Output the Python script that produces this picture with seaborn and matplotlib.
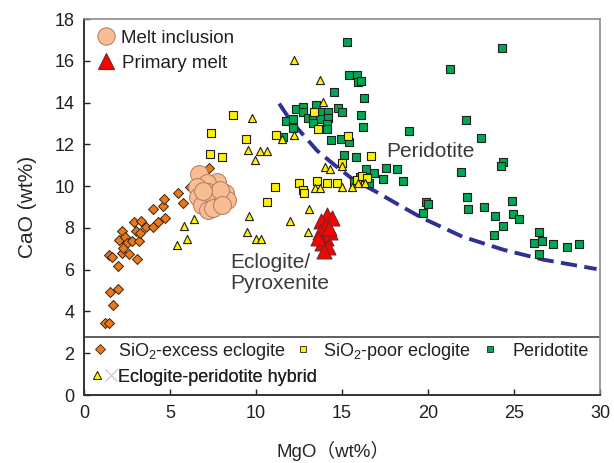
import matplotlib
matplotlib.use("Agg")
import matplotlib.pyplot as plt
import seaborn as sns
import pandas as pd
from matplotlib.lines import Line2D
from matplotlib.legend_handler import HandlerTuple

# ---- MgO / CaO (wt%) compilations ----
excess_mgo = [1.24, 1.43, 1.67, 1.51, 2.00, 2.00, 1.47, 1.61, 2.19, 2.64, 3.06, 2.19, 2.06,
              2.38, 2.48, 2.25, 2.77, 3.22, 3.02, 2.91, 3.31, 3.26, 3.60, 4.03, 4.32, 4.71,
              4.03, 4.61, 4.65, 5.74, 5.49, 7.29, 6.16]
excess_cao = [3.46, 3.46, 4.33, 4.92, 5.08, 6.16, 6.70, 6.63, 6.79, 6.75, 6.52, 7.83, 7.43,
              7.56, 7.27, 7.06, 7.35, 7.35, 7.83, 8.27, 8.35, 7.75, 8.03, 8.02, 8.27, 8.46,
              8.89, 9.05, 9.37, 9.17, 9.65, 10.89, 9.97]

poor_mgo = [7.33, 8.02, 8.68, 7.40, 9.40, 11.16, 13.39, 13.58, 15.33, 14.98, 16.67, 11.10,
            10.62, 12.50, 12.73, 12.79, 13.53, 14.11, 14.69, 15.85, 16.14, 16.47]
poor_cao = [11.52, 11.37, 13.41, 12.54, 12.24, 12.43, 13.54, 12.75, 12.38, 11.11, 11.43, 9.94,
            9.25, 10.16, 9.81, 9.68, 10.25, 10.16, 10.13, 10.29, 10.48, 10.41]

hybrid_mgo = [5.39, 5.81, 6.01, 6.41, 12.23, 13.72, 13.87, 12.21, 11.49, 9.75, 9.55, 10.23,
              10.62, 9.94, 14.01, 14.30, 15.02, 13.43, 13.72, 14.98, 15.56, 15.95, 16.34,
              13.10, 11.98, 13.00, 9.61, 9.49, 10.00, 10.29]
hybrid_cao = [7.19, 8.10, 7.48, 8.43, 16.03, 15.10, 14.01, 12.43, 12.27, 13.27, 11.75, 11.67,
              11.67, 11.27, 10.92, 10.84, 10.95, 9.89, 9.89, 9.97, 9.94, 10.13, 10.13,
              8.89, 8.35, 7.78, 8.57, 7.78, 7.46, 7.46]

peridotite_mgo = [15.31, 15.43, 15.85, 15.95, 16.10, 14.52, 16.28, 12.33, 12.75, 12.75, 13.49,
                  13.82, 14.20, 13.04, 13.33, 14.20, 13.72, 13.33, 14.11, 14.11, 11.74, 12.13,
                  12.17, 11.55, 14.79, 15.02, 16.09, 16.20, 14.34, 14.92, 15.43, 15.13, 15.81,
                  15.70, 16.05, 16.40, 16.86, 16.59, 17.56, 18.22, 17.40, 18.56, 18.88, 21.28,
                  24.28, 22.19, 23.06, 21.90, 24.38, 24.22, 22.25, 22.30, 23.26, 23.87, 24.34,
                  24.87, 24.96, 25.29, 23.85, 19.88, 20.00, 19.69, 26.47, 26.16, 26.61, 27.29,
                  28.06, 28.80, 26.47]
peridotite_cao = [16.90, 15.32, 15.32, 14.97, 15.03, 14.52, 14.22, 13.67, 13.81, 13.54, 13.86,
                  13.54, 13.54, 13.25, 13.25, 13.25, 13.22, 13.02, 12.98, 12.75, 13.14, 13.19,
                  12.78, 12.35, 13.73, 13.57, 13.41, 12.83, 12.19, 12.24, 12.11, 11.48, 11.40,
                  10.21, 10.44, 10.81, 10.63, 10.16, 10.87, 10.81, 10.35, 10.25, 12.63, 15.60,
                  16.59, 13.18, 12.32, 10.68, 11.14, 10.98, 9.49, 8.90, 9.02, 8.59, 8.11,
                  9.29, 8.67, 8.44, 7.67, 9.25, 9.16, 8.73, 7.78, 7.30, 7.38, 7.22,
                  7.08, 7.22, 6.75]

melt_mgo = [6.71, 7.71, 7.13, 6.55, 8.20, 7.23, 6.65, 7.71, 8.30, 6.84, 7.71, 7.23, 7.23,
            7.91, 6.90, 7.50, 8.00]
melt_cao = [10.57, 10.21, 10.13, 9.94, 9.65, 9.41, 9.49, 9.49, 9.33, 9.10, 9.10, 8.86, 9.73,
            9.81, 9.75, 8.95, 9.10]

primary_mgo = [14.13, 14.42, 13.78, 14.01, 14.30, 13.72, 14.07, 13.84, 14.19, 13.95, 14.24, 13.60]
primary_cao = [8.62, 8.48, 8.33, 8.10, 7.81, 7.81, 7.52, 7.29, 7.10, 6.90, 8.00, 7.52]

# peridotite / eclogite boundary
boundary_mgo = [11.35, 12.0, 12.75, 13.55, 14.7, 15.6, 17.0, 18.2, 19.6, 22.0, 24.4, 26.7, 29.8]
boundary_cao = [13.95, 13.15, 12.45, 11.7, 10.92, 10.35, 9.72, 9.15, 8.5, 7.58, 6.95, 6.48, 6.03]

x_ticks = [0, 5, 10, 15, 20, 25, 30]
y_ticks = [0, 2, 4, 6, 8, 10, 12, 14, 16, 18]

# ---- style ----
sns.set_style("ticks")
plt.rcParams["font.family"] = ["Liberation Sans", "Noto Sans CJK SC", "DejaVu Sans"]
plt.rcParams["mathtext.fontset"] = "custom"
plt.rcParams["mathtext.rm"] = "Liberation Sans"
plt.rcParams["mathtext.it"] = "Liberation Sans:italic"
plt.rcParams["text.color"] = "#231f20"

W, H = 614, 463
fig = plt.figure(figsize=(W / 100, H / 100), dpi=100)
ax = fig.add_axes([84 / W, 1 - 395 / H, (600 - 84) / W, (395 - 19) / H])

c_orange, c_yellow, c_green = "#e8791e", "#fff200", "#00a651"
c_peach, c_red, c_line = "#f9bd96", "#ff0000", "#2e3192"

sns.lineplot(x=boundary_mgo, y=boundary_cao, sort=False, estimator=None, ax=ax,
             color=c_line, lw=2.8, dashes=False, zorder=2)
ax.lines[-1].set_dashes((4.2, 1.9))

sns.scatterplot(x=excess_mgo, y=excess_cao, marker="D", s=26, color=c_orange,
                edgecolor="#3a2410", linewidth=0.7, ax=ax, zorder=3)
sns.scatterplot(x=peridotite_mgo, y=peridotite_cao, marker="s", s=30, color=c_green,
                edgecolor="#231f20", linewidth=0.8, ax=ax, zorder=3)
sns.scatterplot(x=poor_mgo, y=poor_cao, marker="s", s=30, color=c_yellow,
                edgecolor="#231f20", linewidth=0.8, ax=ax, zorder=4)
sns.scatterplot(x=hybrid_mgo, y=hybrid_cao, marker="^", s=34, color=c_yellow,
                edgecolor="#231f20", linewidth=0.8, ax=ax, zorder=4)
sns.scatterplot(x=melt_mgo, y=melt_cao, marker="o", s=165, color=c_peach,
                edgecolor="#b27a58", linewidth=0.7, ax=ax, zorder=5)
sns.scatterplot(x=primary_mgo, y=primary_cao, marker="^", s=115, color=c_red,
                edgecolor="#6a2a2a", linewidth=0.8, ax=ax, zorder=6)

# separator above the lower legend panel
ax.axhline(2.8, color="#333333", lw=1.1, zorder=2)

ax.set_xlim(0, 30)
ax.set_ylim(0, 18)
ax.set_xticks(x_ticks)
ax.set_yticks(y_ticks)
ax.tick_params(direction="in", length=4, width=1, labelsize=13, pad=7, colors="#231f20")
for side in ["left", "bottom"]:
    ax.spines[side].set_color("#333333")
    ax.spines[side].set_linewidth(1.4)
for side in ["top", "right"]:
    ax.spines[side].set_color("#8c8c8c")
    ax.spines[side].set_linewidth(1.2)

ax.set_xlabel("MgO（wt%）", fontsize=13.5, labelpad=14)
ax.xaxis.label.set_x(0.5 - 9 / 516)
ax.set_ylabel("CaO (wt%)", fontsize=15, labelpad=12)

ax.text(20.15, 11.68, "Peridotite", fontsize=15, ha="center", va="center", color="#3a3a3a")
ax.text(8.53, 5.85, "Eclogite/\nPyroxenite", fontsize=15, ha="left", va="center",
        color="#3a3a3a", linespacing=1.1)


def entry(handle, label, mx, my, tx, fs, hl=1.0):
    """Single legend entry: marker centred at (mx, my) px, text starting at tx px."""
    fs_px = fs * 100 / 72
    left = mx - hl * fs_px / 2
    pad = (tx - (left + hl * fs_px)) / fs_px
    leg = ax.legend([handle], [label], loc="center left",
                    bbox_to_anchor=(left / W, 1 - my / H), bbox_transform=fig.transFigure,
                    frameon=False, fontsize=fs, borderpad=0, borderaxespad=0,
                    handlelength=hl, handletextpad=pad, numpoints=1,
                    handler_map={tuple: HandlerTuple(ndivide=None, pad=0)})
    ax.add_artist(leg)


h_melt = Line2D([], [], ls="", marker="o", ms=12.5, mfc=c_peach, mec="#b27a58", mew=0.7)
h_prim = Line2D([], [], ls="", marker="^", ms=11.5, mfc=c_red, mec="#6a2a2a", mew=0.8)
entry(h_melt, "Melt inclusion", 106, 38, 121, 13.5)
entry(h_prim, "Primary melt", 106.5, 63, 122, 13.5)

h_ex = Line2D([], [], ls="", marker="D", ms=5, mfc=c_orange, mec="#3a2410", mew=0.6)
h_po = Line2D([], [], ls="", marker="s", ms=5, mfc=c_yellow, mec="#231f20", mew=0.6)
h_pe = Line2D([], [], ls="", marker="s", ms=5, mfc=c_green, mec="#231f20", mew=0.6)
h_hy = Line2D([], [], ls="", marker="^", ms=5.5, mfc=c_yellow, mec="#231f20", mew=0.6)
h_x = Line2D([], [], ls="", marker="x", ms=8, mec="#d2d2e6", mew=0.9)
entry(h_ex, "SiO$_2$-excess eclogite", 99.5, 351, 118, 13)
entry(h_po, "SiO$_2$-poor eclogite", 303, 351, 323, 13)
entry(h_pe, "Peridotite", 490, 351, 512, 13)
entry((h_hy, h_x), "Eclogite-peridotite hybrid", 104, 377, 118, 13, hl=1.55)

fig.savefig("out.png", dpi=100)
